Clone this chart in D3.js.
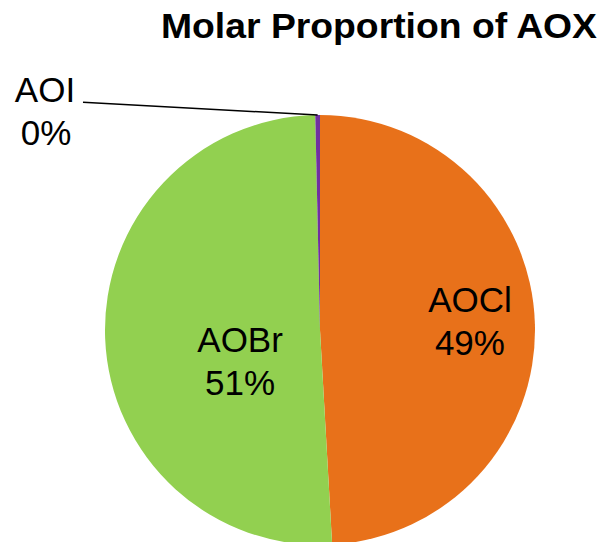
<!DOCTYPE html>
<html>
<head>
<meta charset="utf-8">
<script src="https://cdn.jsdelivr.net/npm/d3@7"></script>
<style>
  html, body { margin: 0; padding: 0; background: #fff; }
  svg { display: block; font-family: "Liberation Sans", Arial, sans-serif; }
</style>
</head>
<body>
<svg id="chart" width="600" height="542"></svg>
<script>
// Molar share of each AOX fraction (percent)
const categories = ["AOCl", "AOBr", "AOI"];
const values = [49.1, 50.55, 0.35];
const labels = ["49%", "51%", "0%"];
const colors = ["#E8711A", "#92D050", "#7030A0"];

const width = 600, height = 542;
const cx = 320, cy = 330, radius = 215;

const svg = d3.select("#chart");

svg.append("text")
  .attr("x", 597)
  .attr("y", 38)
  .attr("text-anchor", "end")
  .attr("font-weight", "bold")
  .attr("font-size", 35.5)
  .attr("textLength", 436)
  .attr("lengthAdjust", "spacingAndGlyphs")
  .attr("fill", "#000")
  .text("Molar Proportion of AOX");

const data = categories.map((c, i) => ({ name: c, value: values[i], label: labels[i], color: colors[i] }));

const pie = d3.pie().sort(null).value(d => d.value);
const arcs = pie(data);
const arc = d3.arc().innerRadius(0).outerRadius(radius);

const g = svg.append("g").attr("transform", `translate(${cx},${cy})`);

g.selectAll("path.slice")
  .data(arcs)
  .join("path")
  .attr("class", "slice")
  .attr("d", arc)
  .attr("fill", d => d.data.color);

// Inside labels sit around the slice centroid
const inside = [
  { name: "AOCl", r: 150, dy: -13.7 },
  { name: "AOBr", r: 80, dy: 19.3 }
];
const lineGap = 42.5;

inside.forEach(spec => {
  const a = arcs.find(d => d.data.name === spec.name);
  const [x, y] = d3.arc().innerRadius(spec.r).outerRadius(spec.r).centroid(a);
  const t = g.append("text")
    .attr("text-anchor", "middle")
    .attr("font-size", 35)
    .attr("fill", "#000");
  t.append("tspan").attr("x", x).attr("y", y + spec.dy).text(a.data.name);
  t.append("tspan").attr("x", x).attr("y", y + spec.dy + lineGap).text(a.data.label);
});

// Outside label with a leader line for the tiny AOI slice
const aoi = arcs.find(d => d.data.name === "AOI");
const mid = (aoi.startAngle + aoi.endAngle) / 2;
const edge = [radius * Math.sin(mid), -radius * Math.cos(mid)];
const labelX = 45 - cx, labelY = 101.7 - cy;

g.append("line")
  .attr("x1", labelX + 38)
  .attr("y1", labelY + 0.5)
  .attr("x2", edge[0])
  .attr("y2", edge[1])
  .attr("stroke", "#000")
  .attr("stroke-width", 1.5);

const ot = g.append("text")
  .attr("text-anchor", "middle")
  .attr("font-size", 35)
  .attr("fill", "#000");
ot.append("tspan").attr("x", labelX).attr("y", labelY).text(aoi.data.name);
ot.append("tspan").attr("x", labelX + 1).attr("y", labelY + 43.3).text(aoi.data.label);
</script>
</body>
</html>
